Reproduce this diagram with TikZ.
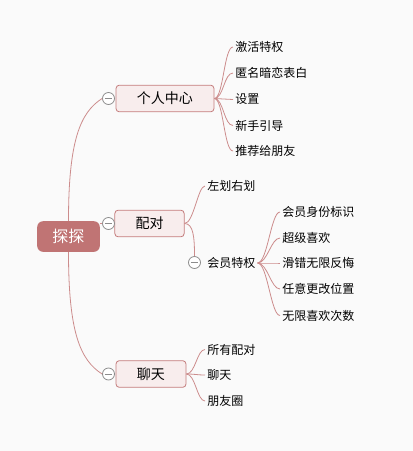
\documentclass[tikz,border=0pt]{standalone}
\usepackage{fontspec}
\setmainfont{Noto Sans CJK SC}
\usetikzlibrary{positioning}
\definecolor{bg}{RGB}{250,250,250}
\definecolor{rootfill}{RGB}{192,116,116}
\definecolor{boxfill}{RGB}{248,237,237}
\definecolor{boxline}{RGB}{196,124,124}
\definecolor{linkc}{RGB}{204,140,140}
\definecolor{circc}{RGB}{140,140,140}
\tikzset{
  rootbox/.style={draw=none, fill=rootfill, rounded corners=4.5pt, minimum width=47pt, minimum height=23pt, text=white, font=\fontsize{12}{14}\selectfont, inner sep=0pt},
  topicbox/.style={draw=boxline, line width=0.6pt, fill=boxfill, rounded corners=2.5pt, minimum height=20pt, font=\fontsize{10.5}{12}\selectfont, inner sep=0pt},
  leaf/.style={anchor=west, inner sep=1.5pt, font=\fontsize{9}{11}\selectfont},
  fold/.style={circle, draw=circc, line width=0.6pt, fill=white, minimum size=9pt, inner sep=0pt,
    path picture={\draw[circc, line width=0.6pt] ([xshift=-2.8pt]path picture bounding box.center) -- ([xshift=2.8pt]path picture bounding box.center);}},
  link/.style={draw=linkc, line width=0.6pt},
}
\begin{document}
\begin{tikzpicture}[x=0.75pt, y=-0.75pt]
\fill[bg] (0,0) rectangle (413,451);
\useasboundingbox (0,0) rectangle (413,451);

% root
\node[rootbox] (root) at (68.5,236.5) {探探};

% level 1
\node[topicbox, minimum width=73.5pt] (p1) at (165,98.5) {个人中心};
\node[topicbox, minimum width=52pt] (p2) at (149.5,223.5) {配对};
\node[topicbox, minimum width=52.5pt] (p3) at (151,374) {聊天};

\node[fold] (c1) at (108.5,98.5) {};
\node[fold] (c2) at (108.5,223.5) {};
\node[fold] (c3) at (108.5,374) {};

\draw[link] (root.north) .. controls +(0,-80) and +(-22,14) .. (c1.west);
\draw[link] (root.east |- c2.west) -- (c2.west);
\draw[link] (root.south) .. controls +(0,80) and +(-22,-14) .. (c3.west);

% 个人中心 children
\node[leaf] (a1) at (233,47) {激活特权};
\node[leaf] (a2) at (233,73) {匿名暗恋表白};
\node[leaf] (a3) at (233,99.5) {设置};
\node[leaf] (a4) at (233,125.5) {新手引导};
\node[leaf] (a5) at (233,151) {推荐给朋友};
\foreach \n in {a1,a2,a3,a4,a5}
  \draw[link] (p1.east) .. controls +(9,0) and +(-9,0) .. (\n.west);

% 配对 children
\node[leaf] (b1) at (205,186) {左划右划};
\node[fold] (c4) at (194.5,262.5) {};
\node[leaf] (b2) at (205,263) {会员特权};
\draw[link] (p2.east) .. controls +(9,0) and +(-7,0) .. (b1.west);
\draw[link] (p2.east) .. controls +(9,0) and +(0,-18) .. (c4.north);

% 会员特权 children
\node[leaf] (v1) at (280,212) {会员身份标识};
\node[leaf] (v2) at (280,238) {超级喜欢};
\node[leaf] (v3) at (280,263) {滑错无限反悔};
\node[leaf] (v4) at (280,289) {任意更改位置};
\node[leaf] (v5) at (280,315.5) {无限喜欢次数};
\foreach \n in {v1,v2,v3,v4,v5}
  \draw[link] (b2.east) .. controls +(10,0) and +(-9,0) .. (\n.west);

% 聊天 children
\node[leaf] (d1) at (205,349.5) {所有配对};
\node[leaf] (d2) at (205,375) {聊天};
\node[leaf] (d3) at (205,401) {朋友圈};
\foreach \n in {d1,d2,d3}
  \draw[link] (p3.east) .. controls +(9,0) and +(-8,0) .. (\n.west);
\end{tikzpicture}
\end{document}
